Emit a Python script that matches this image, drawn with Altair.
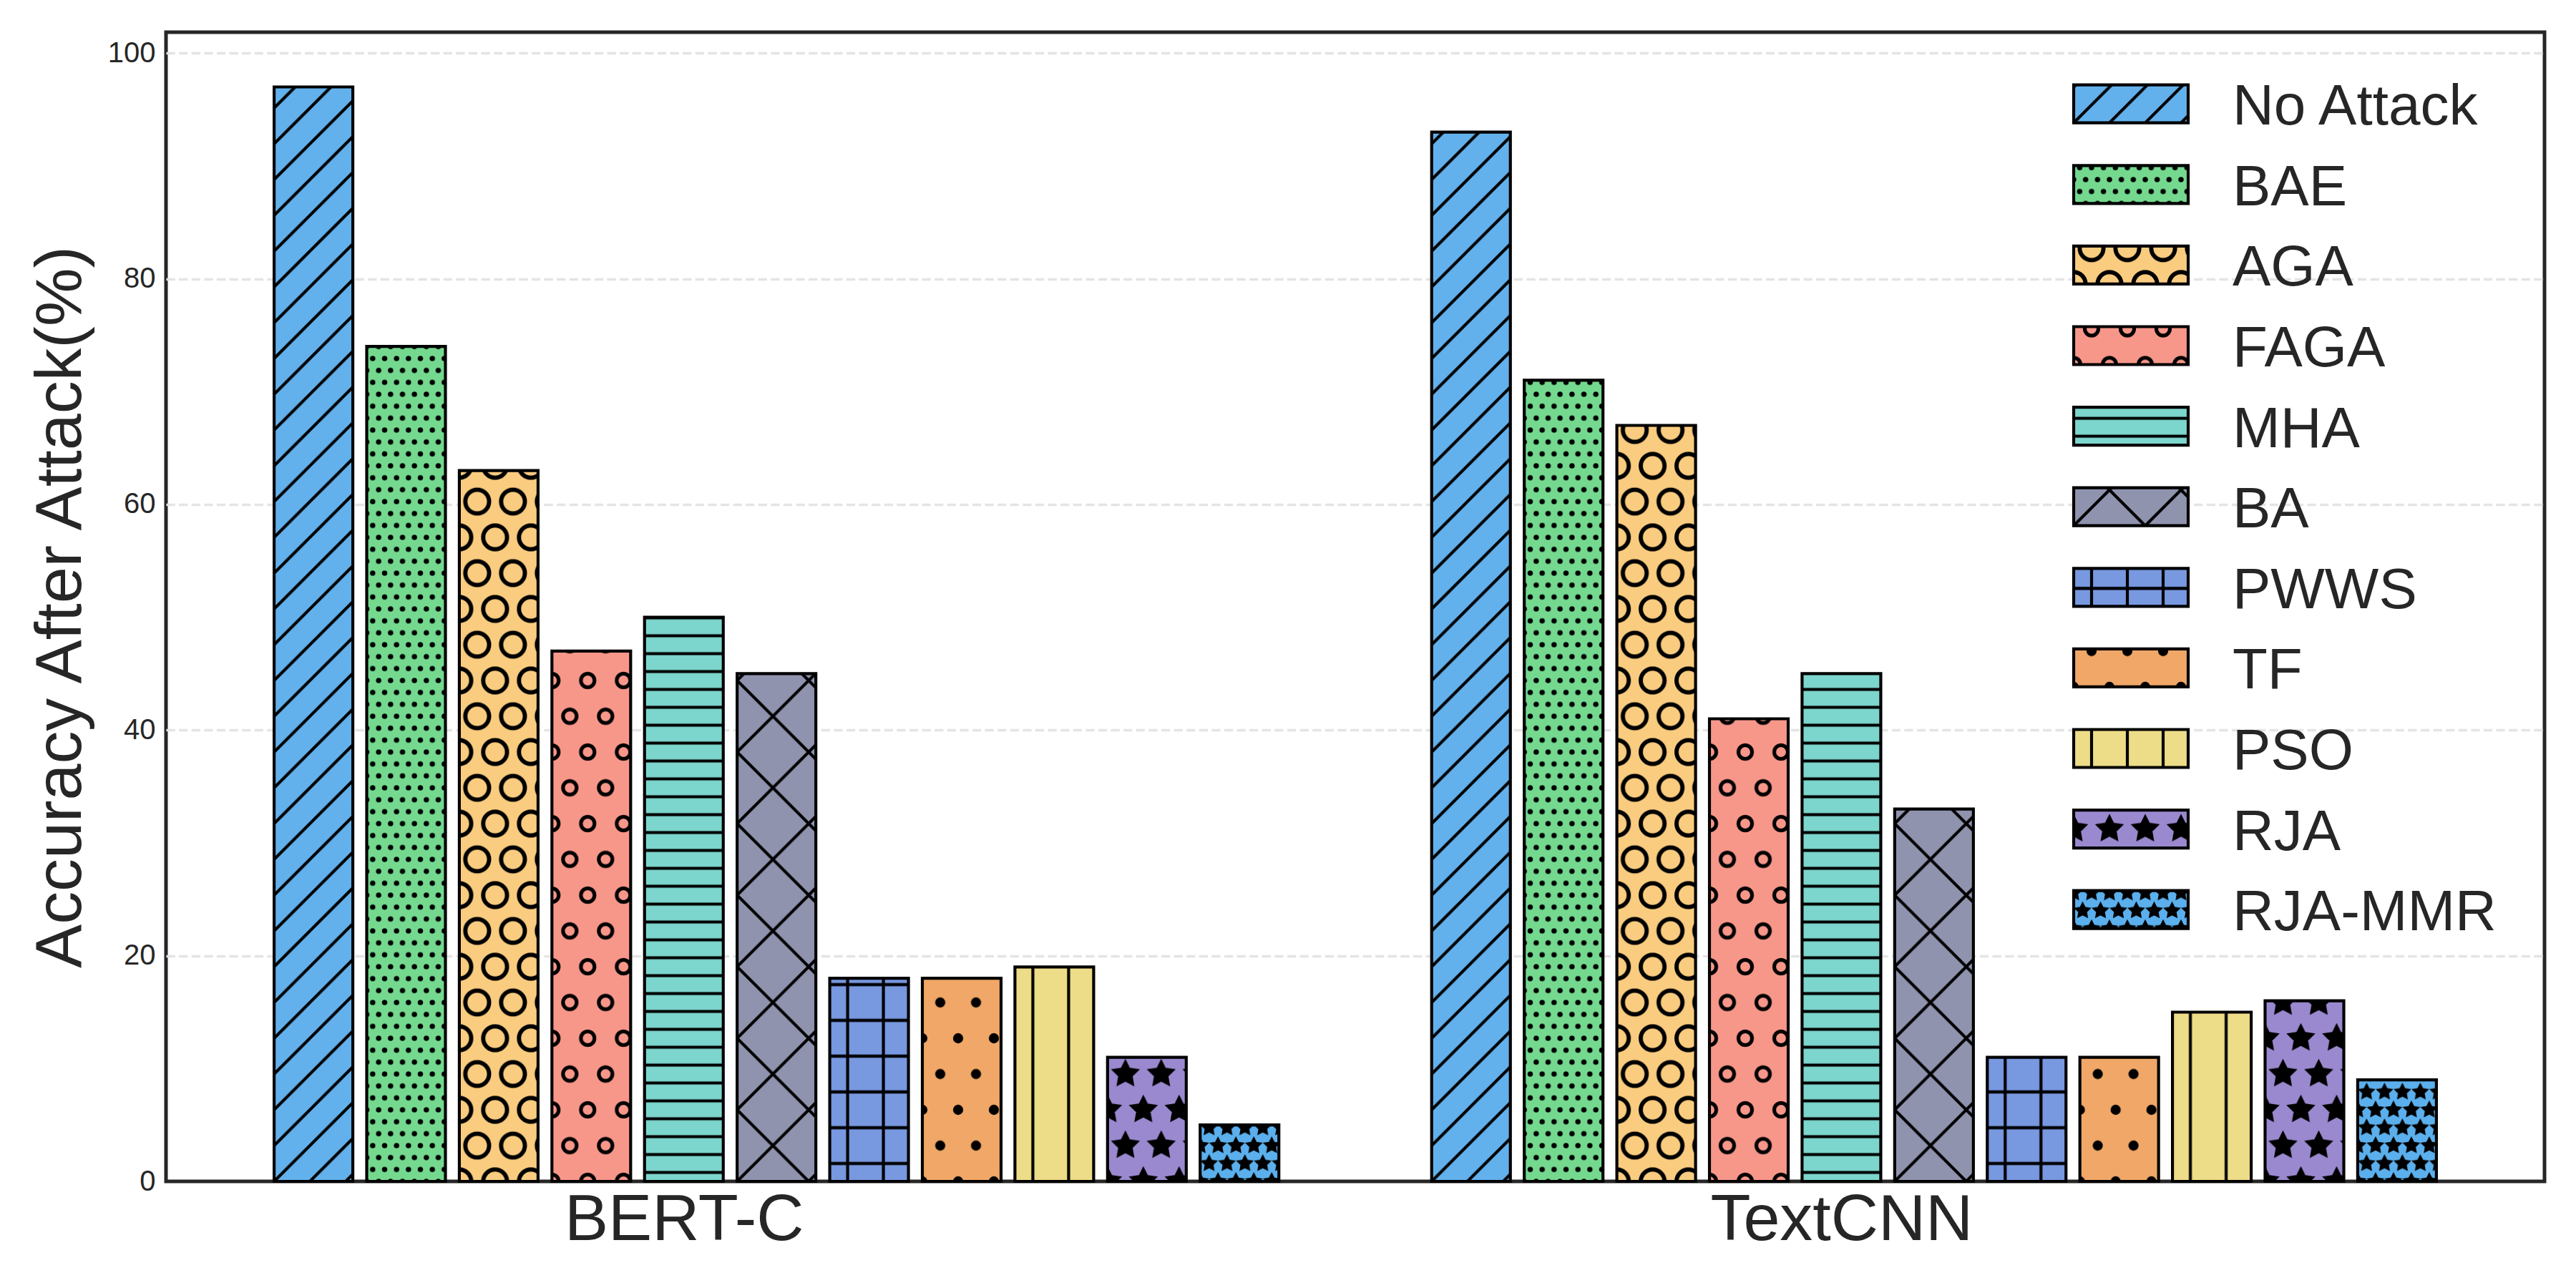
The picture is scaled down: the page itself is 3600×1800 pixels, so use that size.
import base64
import json
import math

import altair as alt
import pandas as pd

# ---------------- data ----------------
groups = ["BERT-C", "TextCNN"]
series = ["No Attack", "BAE", "AGA", "FAGA", "MHA", "BA", "PWWS", "TF", "PSO", "RJA", "RJA-MMR"]
bert_c = [97, 74, 63, 47, 50, 45, 18, 18, 19, 11, 5]
textcnn = [93, 71, 67, 41, 45, 33, 11, 11, 15, 16, 9]
y_ticks = [0, 20, 40, 60, 80, 100]

# ---------------- styles ----------------
colors = ["#63B1EC", "#74D98F", "#F9CC80", "#F7978A", "#7DD6CD", "#8F93AE",
          "#7898E0", "#F0A767", "#EDDC88", "#9A89CF", "#5BAFEC"]
hatches = ["//", "...", "O", "o", "--", "x", "+", ".", "|", "*", "**"]

FONT = "Liberation Sans"
INK = "#262626"
DPI = 300.0
LW = DPI / 72.0          # 1 pt at 300 dpi
STEP = 0.08              # distance between bars in a group
BAR_W = 0.068            # bar width
CENTER = (len(series) - 1) / 2
TICK_SHIFT = -STEP       # group labels sit under the 5th bar

W, H = 3324, 1606


def star(cx, cy, R):
    pts = []
    for k in range(10):
        rad = R if k % 2 == 0 else 0.5 * R
        th = math.pi / 2 + k * math.pi / 5
        pts.append(f"{cx + rad * math.cos(th):.3f},{cy - rad * math.sin(th):.3f}")
    return (f'<path d="M{" L".join(pts)} Z" fill="#000" stroke="#000" '
            f'stroke-width="{LW:.3f}" stroke-linejoin="miter" stroke-miterlimit="10"/>')


def hatch_tile(code):
    lines = []
    w = h = None
    n = (code.count("/") + code.count("x")) * 6
    if n:
        d = 2 * DPI / n
        w = h = d
        for c in (0, d, 2 * d):
            lines.append(f"M{-d:.3f},{c + d:.3f} L{2 * d:.3f},{c - 2 * d:.3f}")
    n = (code.count("\\") + code.count("x")) * 6
    if n:
        d = 2 * DPI / n
        w = h = d
        for c in (-d, 0, d):
            lines.append(f"M{-d:.3f},{c - d:.3f} L{2 * d:.3f},{c + 2 * d:.3f}")
    nh = (code.count("-") + code.count("+")) * 6
    nv = (code.count("|") + code.count("+")) * 6
    if nh or nv:
        d = DPI / max(nh, nv)
        w = h = d
        if nh:
            lines.append(f"M-2,{d / 2:.3f} H{d + 2:.3f}")
        if nv:
            lines.append(f"M{d / 2:.3f},-2 V{d + 2:.3f}")
    if lines:
        body = (f'<path d="{" ".join(lines)}" fill="none" stroke="#000" '
                f'stroke-width="{LW:.3f}"/>')
        return w, h, body
    for ch, size, kind in ((".", 0.1, "dot"), ("o", 0.2, "ring"),
                           ("O", 0.35, "ring"), ("*", 1 / 3, "star")):
        n = code.count(ch) * 6
        if n:
            sp = DPI / n
            r = size * sp
            pos = []
            for bx, by in ((0, 0), (sp / 2, sp)):
                for dx in (-sp, 0, sp):
                    for dy in (-2 * sp, 0, 2 * sp):
                        pos.append((bx + dx, by + dy))
            parts = []
            for x, y in pos:
                if kind == "dot":
                    parts.append(f'<circle cx="{x:.3f}" cy="{y:.3f}" r="{r + LW / 2:.3f}" fill="#000"/>')
                elif kind == "ring":
                    parts.append(f'<circle cx="{x:.3f}" cy="{y:.3f}" r="{0.95 * r:.3f}" fill="none" '
                                 f'stroke="#000" stroke-width="{0.1 * r + LW:.3f}"/>')
                else:
                    parts.append(star(x, y, r))
            return sp, 2 * sp, "".join(parts)
    return 10, 10, ""


def pattern_uri(code, anchor_y="100%"):
    w, h, body = hatch_tile(code)
    svg = (f'<svg xmlns="http://www.w3.org/2000/svg" width="100%" height="100%">'
           f'<defs><pattern id="h" patternUnits="userSpaceOnUse" x="0" y="{anchor_y}" '
           f'width="{w:.3f}" height="{h:.3f}">{body}</pattern></defs>'
           f'<rect x="0" y="0" width="100%" height="100%" fill="url(#h)"/></svg>')
    return "data:image/svg+xml;base64," + base64.b64encode(svg.encode()).decode()


urls = [pattern_uri(c) for c in hatches]
leg_urls = [pattern_uri(c, "50%" if c == "*" else "100%") for c in hatches]

# ---------------- tables ----------------
rows = []
for gi, vals in enumerate([bert_c, textcnn]):
    for si, s in enumerate(series):
        rows.append({"group": groups[gi], "gi": gi, "series": s, "si": si,
                     "value": vals[si], "url": urls[si]})
bars_df = pd.DataFrame(rows)
leg_df = pd.DataFrame({"series": series, "si": list(range(len(series))), "url": leg_urls})

# scales (matplotlib-like 5% margins)
x_lo = -CENTER * STEP - BAR_W / 2
x_hi = (len(groups) - 1) + CENTER * STEP + BAR_W / 2
mx = 0.05 * (x_hi - x_lo)
x_dom = [x_lo - mx, x_hi + mx]
y_dom = [0, max(bert_c + textcnn) * 1.05]

xs = alt.Scale(domain=x_dom, nice=False, zero=False)
ys = alt.Scale(domain=y_dom, nice=False, zero=True)
cs = alt.Scale(domain=series, range=colors)

tick_vals = [gi + TICK_SHIFT for gi in range(len(groups))]
x_axis = alt.Axis(values=tick_vals,
                  labelExpr=f"{json.dumps(groups)}[round(datum.value)]",
                  labelFont=FONT, labelFontSize=91.7, labelColor=INK, labelPadding=9,
                  labelLimit=0, ticks=False, tickSize=0, domain=False, grid=False,
                  labelFlush=False, labelOverlap=False)
y_axis = alt.Axis(values=y_ticks, format="d", labelFont=FONT, labelFontSize=40,
                  labelColor=INK, labelPadding=15, ticks=False, tickSize=0,
                  domain=False, grid=True, gridColor="#e4e4e4", gridDash=[12.3, 5.3],
                  gridWidth=3.3, labelFlush=False,
                  gridOpacity=alt.condition("datum.value == 0", alt.value(0), alt.value(1)),
                  title="Accuracy After Attack(%)", titleFont=FONT, titleFontSize=91.7,
                  titleFontWeight="normal", titleColor=INK, titleX=-120, titleY=H / 2,
                  titleBaseline="alphabetic")

X = alt.X("x_lo:Q", scale=xs, axis=x_axis, title=None)
Y = alt.Y("value:Q", scale=ys, axis=y_axis)

base = alt.Chart(bars_df).transform_calculate(
    x_lo=f"datum.gi + (datum.si - {CENTER}) * {STEP} - {BAR_W / 2}",
    x_hi=f"datum.gi + (datum.si - {CENTER}) * {STEP} + {BAR_W / 2}",
)
fills = base.mark_rect(strokeWidth=0).encode(
    x=X, x2="x_hi:Q", y=Y, y2=alt.datum(0),
    color=alt.Color("series:N", scale=cs, legend=None))
hatch_img = base.mark_image(aspect=False).encode(
    x=X, x2="x_hi:Q", y=Y, y2=alt.datum(0), url="url:N")
edges = base.mark_rect(fillOpacity=0, stroke="#000000", strokeWidth=LW).encode(
    x=X, x2="x_hi:Q", y=Y, y2=alt.datum(0))
main = alt.layer(fills, hatch_img, edges)

# ---------------- legend (drawn inside the plot, top right) ----------------
LEG_HALF = 0.2353
LEG_X0, LEG_X1, LEG_TX = 2666, 2826, 2888
ly = alt.Scale(domain=[0, len(series) - 1], range=[100.2, 1226.2], nice=False, zero=False)
leg = alt.Chart(leg_df).transform_calculate(
    lo=f"datum.si - {LEG_HALF}", hi=f"datum.si + {LEG_HALF}")
LY = alt.Y("lo:Q", scale=ly, axis=None)
leg_fill = leg.mark_rect(strokeWidth=0).encode(
    x=alt.value(LEG_X0), x2=alt.value(LEG_X1), y=LY, y2="hi:Q",
    color=alt.Color("series:N", scale=cs, legend=None))
leg_img = leg.mark_image(aspect=False).encode(
    x=alt.value(LEG_X0), x2=alt.value(LEG_X1), y=LY, y2="hi:Q", url="url:N")
leg_edge = leg.mark_rect(fillOpacity=0, stroke="#000000", strokeWidth=LW).encode(
    x=alt.value(LEG_X0), x2=alt.value(LEG_X1), y=LY, y2="hi:Q")
leg_text = leg.mark_text(align="left", baseline="middle", font=FONT, fontSize=80,
                         color=INK, dy=5).encode(
    x=alt.value(LEG_TX), y=alt.Y("si:Q", scale=ly, axis=None), text="series:N")
legend = alt.layer(leg_fill, leg_img, leg_edge, leg_text)

chart = (
    alt.layer(main, legend)
    .resolve_scale(y="independent")
    .properties(width=W, height=H,
                padding={"left": 224, "top": 37, "right": 28, "bottom": 141},
                autosize=alt.AutoSizeParams(type="none"))
    .configure_view(stroke=INK, strokeWidth=5)
)

chart.save("out.html", embed_options={"renderer": "svg", "actions": False})
